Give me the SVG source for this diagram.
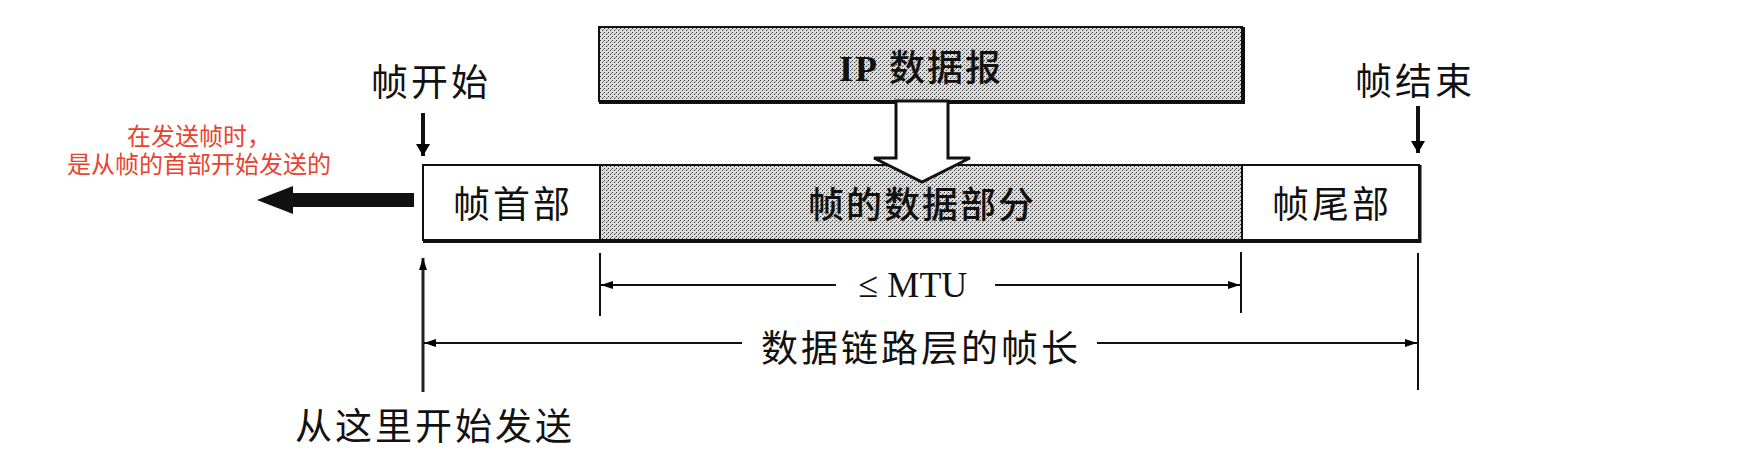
<svg xmlns="http://www.w3.org/2000/svg" width="1756" height="464" viewBox="0 0 1756 464">
<defs>
<pattern id="dots" width="4" height="4" patternUnits="userSpaceOnUse">
<rect width="4" height="4" fill="#dcdcdc"/>
<rect x="0" y="0" width="1" height="1" fill="#333"/>
<rect x="2" y="2" width="1" height="1" fill="#333"/>
<rect x="3" y="1" width="1" height="1" fill="#888"/>
</pattern>
<marker id="ah" viewBox="0 0 12 10" refX="12" refY="5" markerWidth="12" markerHeight="10" markerUnits="userSpaceOnUse" orient="auto">
<path d="M0,1 L12,5 L0,9 Z" fill="#000"/>
</marker>
<marker id="ahb" viewBox="0 0 12 14" refX="12" refY="7" markerWidth="12" markerHeight="14" markerUnits="userSpaceOnUse" orient="auto">
<path d="M0,0 L12,7 L0,14 Z" fill="#000"/>
</marker>
<style>
.cn{font-family:"Noto Sans CJK SC","Noto Sans",sans-serif;font-size:37px;fill:#111;letter-spacing:3px}
.cnb{font-family:"Noto Sans CJK SC","Noto Sans",sans-serif;font-size:36px;fill:#111;font-weight:500;letter-spacing:2px}
.ser{font-family:"Liberation Serif","Noto Sans CJK SC",serif;font-size:36px;fill:#111}
.red{font-family:"Noto Sans CJK SC","Noto Sans",sans-serif;font-size:24px;fill:#e8432f}
.ln{stroke:#111;stroke-width:2;fill:none}
.box{stroke:#111;stroke-width:2}
</style>
</defs>

<g id="ip-datagram">
<rect x="599" y="27" width="643" height="74" fill="url(#dots)" class="box"/>
<line x1="599" y1="102" x2="1245" y2="102" stroke="#111" stroke-width="4"/>
<line x1="1243" y1="27" x2="1243" y2="104" stroke="#111" stroke-width="4"/>
<text x="921" y="81" text-anchor="middle" class="cnb"><tspan class="ser" font-weight="bold">IP</tspan> 数据报</text>
</g>

<g id="frame-header">
<rect x="423" y="165" width="177" height="75" fill="#fff" class="box"/>
<text x="513" y="218" text-anchor="middle" class="cn">帧首部</text>
</g>

<g id="frame-data">
<rect x="600" y="165" width="642" height="75" fill="url(#dots)" class="box"/>
<text x="922" y="218" text-anchor="middle" class="cnb">帧的数据部分</text>
</g>

<g id="frame-trailer">
<rect x="1242" y="165" width="177" height="75" fill="#fff" class="box"/>
<text x="1332" y="218" text-anchor="middle" class="cn">帧尾部</text>
</g>
<g id="frame-shadow">
<line x1="423" y1="241" x2="1421" y2="241" stroke="#111" stroke-width="4"/>
<line x1="1420" y1="165" x2="1420" y2="243" stroke="#111" stroke-width="3"/>
</g>

<g id="label-start">
<text x="431" y="96" text-anchor="middle" class="cn">帧开始</text>
</g>
<g id="label-end">
<text x="1415" y="95" text-anchor="middle" class="cn">帧结束</text>
</g>
<g id="note">
<text text-anchor="middle" class="red"><tspan x="199" y="145">在发送帧时，</tspan><tspan x="199" y="173">是从帧的首部开始发送的</tspan></text>
</g>
<g id="label-send">
<text x="435" y="440" text-anchor="middle" class="cn">从这里开始发送</text>
</g>

<g id="connectors">
<path d="M896,101 L948,101 L948,158 L970,158 L922,182 L874,158 L896,158 Z" fill="#fff" stroke="#111" stroke-width="3" stroke-linejoin="miter"/>
<line x1="423" y1="113" x2="423" y2="156" stroke="#111" stroke-width="4" marker-end="url(#ahb)"/>
<line x1="1418" y1="106" x2="1418" y2="153" stroke="#111" stroke-width="4" marker-end="url(#ahb)"/>
<path d="M257,200 L293,186 L293,193 L414,193 L414,207 L293,207 L293,214 Z" fill="#111"/>
<line x1="423" y1="392" x2="423" y2="258" stroke="#222" stroke-width="3" marker-end="url(#ah)"/>
<line x1="600" y1="253" x2="600" y2="316" class="ln"/>
<line x1="1241" y1="252" x2="1241" y2="313" class="ln"/>
<line x1="836" y1="285" x2="601" y2="285" class="ln" marker-end="url(#ah)"/>
<line x1="995" y1="285" x2="1240" y2="285" class="ln" marker-end="url(#ah)"/>
<text x="913" y="297" text-anchor="middle" class="ser">≤ MTU</text>
<line x1="1418" y1="253" x2="1418" y2="390" class="ln"/>
<line x1="742" y1="343" x2="424" y2="343" class="ln" marker-end="url(#ah)"/>
<line x1="1097" y1="343" x2="1417" y2="343" class="ln" marker-end="url(#ah)"/>
<text x="921" y="362" text-anchor="middle" class="cn">数据链路层的帧长</text>
</g>
</svg>
